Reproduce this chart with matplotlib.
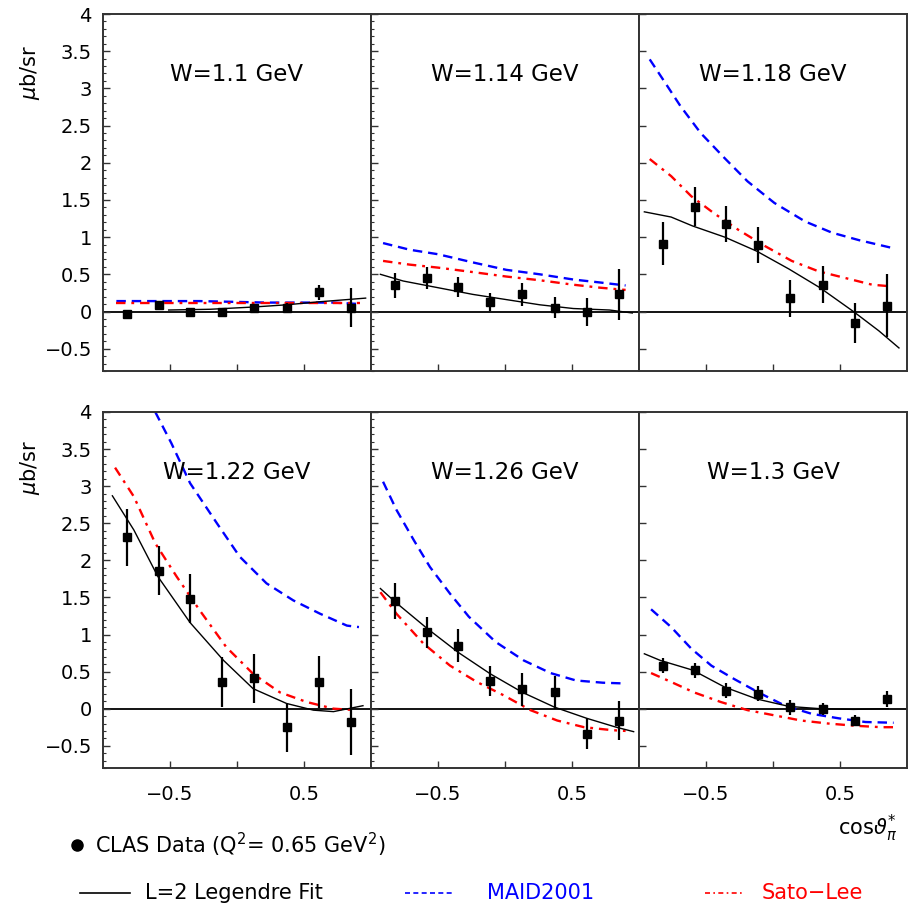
import numpy as np
import matplotlib.pyplot as plt
from matplotlib.lines import Line2D
from matplotlib.ticker import FixedLocator, MultipleLocator, FuncFormatter

plt.rcParams['font.family'] = ['DejaVu Sans']

titles = ["W=1.1 GeV", "W=1.14 GeV", "W=1.18 GeV",
          "W=1.22 GeV", "W=1.26 GeV", "W=1.3 GeV"]

# CLAS points, cos(theta*) bins
cos_pts = [-0.82, -0.58, -0.35, -0.11, 0.13, 0.37, 0.61, 0.85]

data_y = [
    [-0.04, 0.09, 0.00, -0.01, 0.05, 0.05, 0.26, 0.05],
    [0.35, 0.45, 0.33, 0.13, 0.23, 0.05, -0.01, 0.23],
    [0.91, 1.41, 1.18, 0.89, 0.18, 0.36, -0.15, 0.08],
    [2.31, 1.86, 1.48, 0.36, 0.41, -0.25, 0.36, -0.18],
    [1.45, 1.03, 0.85, 0.37, 0.26, 0.22, -0.34, -0.16],
    [0.58, 0.52, 0.24, 0.20, 0.02, 0.00, -0.16, 0.13],
]
data_err = [
    [0.05, 0.04, 0.04, 0.05, 0.05, 0.06, 0.10, 0.26],
    [0.17, 0.15, 0.14, 0.12, 0.15, 0.14, 0.19, 0.34],
    [0.29, 0.26, 0.24, 0.24, 0.25, 0.25, 0.27, 0.42],
    [0.38, 0.33, 0.33, 0.34, 0.33, 0.33, 0.35, 0.45],
    [0.24, 0.21, 0.22, 0.20, 0.22, 0.22, 0.21, 0.26],
    [0.10, 0.10, 0.10, 0.10, 0.10, 0.08, 0.07, 0.11],
]

# L=2 Legendre fit
fit_x = [
    [-0.51, -0.2, 0.12, 0.37, 0.61, 0.96],
    [-0.93, -0.76, -0.5, -0.24, 0.01, 0.26, 0.51, 0.78, 0.95],
    [-0.96, -0.76, -0.6, -0.36, -0.12, 0.12, 0.35, 0.6, 0.79, 0.94],
    [-0.93, -0.77, -0.59, -0.35, -0.10, 0.12, 0.37, 0.57, 0.72, 0.94],
    [-0.93, -0.82, -0.58, -0.35, -0.11, 0.13, 0.37, 0.61, 0.83, 0.96],
    [-0.96, -0.84, -0.6, -0.36, -0.12, 0.12, 0.35, 0.6, 0.86],
]
fit_y = [
    [0.02, 0.03, 0.06, 0.09, 0.13, 0.18],
    [0.50, 0.41, 0.32, 0.23, 0.16, 0.09, 0.04, 0.02, -0.02],
    [1.34, 1.27, 1.15, 1.00, 0.81, 0.57, 0.32, 0.00, -0.26, -0.49],
    [2.87, 2.41, 1.78, 1.16, 0.65, 0.27, 0.07, -0.02, -0.04, 0.04],
    [1.62, 1.44, 1.08, 0.76, 0.47, 0.22, 0.02, -0.13, -0.25, -0.31],
    [0.74, 0.65, 0.52, 0.29, 0.13, 0.03, 0.00, -0.01, 0.00],
]

# MAID2001
maid_x = [
    [-0.9, -0.28, 0.22, 0.72, 0.92],
    [-0.91, -0.71, -0.5, -0.24, 0.01, 0.26, 0.51, 0.71, 0.9],
    [-0.92, -0.81, -0.69, -0.54, -0.36, -0.19, 0.01, 0.24, 0.44, 0.64, 0.9],
    [-0.61, -0.49, -0.35, -0.15, 0.02, 0.22, 0.42, 0.62, 0.82, 0.91],
    [-0.91, -0.81, -0.68, -0.56, -0.41, -0.27, -0.07, 0.14, 0.34, 0.53, 0.73, 0.89],
    [-0.91, -0.76, -0.61, -0.46, -0.29, -0.11, 0.09, 0.29, 0.49, 0.69, 0.9],
]
maid_y = [
    [0.14, 0.14, 0.12, 0.12, 0.10],
    [0.92, 0.83, 0.77, 0.66, 0.56, 0.50, 0.43, 0.39, 0.35],
    [3.39, 3.09, 2.76, 2.40, 2.06, 1.75, 1.46, 1.21, 1.06, 0.96, 0.85],
    [4.00, 3.58, 3.04, 2.50, 2.05, 1.69, 1.46, 1.28, 1.12, 1.10],
    [3.06, 2.68, 2.27, 1.91, 1.55, 1.24, 0.90, 0.65, 0.48, 0.38, 0.35, 0.34],
    [1.34, 1.10, 0.81, 0.58, 0.40, 0.22, 0.04, -0.07, -0.13, -0.18, -0.19],
]

# Sato-Lee
sl_x = [
    [-0.9, -0.3, 0.2, 0.6, 0.92],
    [-0.91, -0.71, -0.5, -0.24, 0.01, 0.26, 0.51, 0.71, 0.9],
    [-0.92, -0.76, -0.61, -0.44, -0.26, -0.06, 0.14, 0.34, 0.54, 0.74, 0.87],
    [-0.91, -0.77, -0.61, -0.45, -0.28, -0.08, 0.12, 0.32, 0.52, 0.72, 0.89],
    [-0.93, -0.81, -0.61, -0.41, -0.21, -0.01, 0.19, 0.39, 0.59, 0.80, 0.90],
    [-0.91, -0.76, -0.59, -0.39, -0.19, 0.01, 0.21, 0.41, 0.61, 0.81, 0.9],
]
sl_y = [
    [0.12, 0.12, 0.12, 0.12, 0.12],
    [0.68, 0.63, 0.59, 0.53, 0.47, 0.42, 0.36, 0.32, 0.29],
    [2.05, 1.82, 1.55, 1.32, 1.10, 0.88, 0.68, 0.54, 0.45, 0.36, 0.34],
    [3.25, 2.86, 2.23, 1.78, 1.33, 0.83, 0.47, 0.22, 0.09, 0.00, -0.02],
    [1.57, 1.28, 0.88, 0.58, 0.36, 0.18, -0.02, -0.16, -0.25, -0.29, -0.30],
    [0.48, 0.36, 0.22, 0.09, -0.02, -0.09, -0.16, -0.20, -0.23, -0.25, -0.25],
]

W, H = 918, 910
fig = plt.figure(figsize=(W / 100, H / 100), dpi=100)

left_px = 103
panel_w = 268
rows = [(14, 371), (412, 768)]

blue = '#0000ff'
red = '#ff0000'
frame_col = '#333333'


def fmt(v, pos):
    s = '%g' % v
    return s.replace('-', '\u2212')


for i in range(6):
    r, c = divmod(i, 3)
    top, bot = rows[r]
    ax = fig.add_axes([(left_px + c * panel_w) / W, 1 - bot / H,
                       panel_w / W, (bot - top) / H])
    ax.set_xlim(-1, 1)
    ax.set_ylim(-0.8, 4)

    ax.axhline(0, color='black', lw=1.3, zorder=1)
    ax.plot(maid_x[i], maid_y[i], color=blue, lw=1.7, ls=(0, (4, 2.5)), zorder=2)
    ax.plot(sl_x[i], sl_y[i], color=red, lw=1.7, ls=(0, (4, 2.5, 1.2, 2.5)), zorder=2)
    ax.plot(fit_x[i], fit_y[i], color='black', lw=1.0, zorder=3)
    ax.errorbar(cos_pts, data_y[i], yerr=data_err[i], fmt='s', color='black',
                ms=6, elinewidth=1.6, capsize=0, zorder=4)

    ax.text(0.5, 0.83, titles[i], transform=ax.transAxes, ha='center',
            va='center', fontsize=16.5)

    for sp in ax.spines.values():
        sp.set_linewidth(1.4)
        sp.set_color(frame_col)

    ax.xaxis.set_major_locator(FixedLocator([-0.5, 0, 0.5]))
    ax.yaxis.set_major_locator(MultipleLocator(0.5))
    if c < 2:
        ax.yaxis.set_minor_locator(MultipleLocator(0.1))
    ax.tick_params(which='both', direction='in', top=False, right=False,
                   color=frame_col)
    ax.tick_params(which='major', length=5, width=1.0)
    ax.tick_params(which='minor', length=2.5, width=0.8)
    ax.tick_params(axis='x', pad=12, labelsize=14)
    ax.tick_params(axis='y', pad=8, labelsize=14)

    if r == 1:
        ax.set_xticklabels(['\u22120.5', '', '0.5'])
    else:
        ax.set_xticklabels([])
    if c == 0:
        ax.yaxis.set_major_formatter(FuncFormatter(fmt))
    else:
        ax.set_yticklabels([])

# y axis labels
for yc in (72, 467):
    fig.text(30 / W, 1 - yc / H, r'$\mu$b/sr', rotation=90, ha='center',
             va='center', fontsize=15)

fig.text(868 / W, 1 - 828 / H, r'cos$\vartheta^{*}_{\pi}$', ha='center',
         va='center', fontsize=15)

# legend, drawn by hand in figure pixels
def fx(px):
    return px / W


def fy(py):
    return 1 - py / H


fig.add_artist(Line2D([fx(77)], [fy(845)], marker='o', ms=8, color='black',
                      transform=fig.transFigure))
fig.text(fx(95), fy(845), r'CLAS Data (Q$^2$= 0.65 GeV$^2$)', ha='left',
         va='center', fontsize=15)

fig.add_artist(Line2D([fx(80), fx(130)], [fy(893), fy(893)], color='black',
                      lw=1.2, transform=fig.transFigure))
fig.text(fx(145), fy(893), 'L=2 Legendre Fit', ha='left', va='center', fontsize=15)

fig.add_artist(Line2D([fx(405), fx(455)], [fy(893), fy(893)], color=blue,
                      lw=1.2, ls=(0, (3, 2)), transform=fig.transFigure))
fig.text(fx(487), fy(893), 'MAID2001', ha='left', va='center', fontsize=15,
         color=blue)

fig.add_artist(Line2D([fx(705), fx(745)], [fy(893), fy(893)], color=red,
                      lw=1.2, ls=(0, (3, 2, 1, 2)), transform=fig.transFigure))
fig.text(fx(762), fy(893), 'Sato\u2212Lee', ha='left', va='center', fontsize=15,
         color=red)

fig.savefig('out.png', dpi=100)
